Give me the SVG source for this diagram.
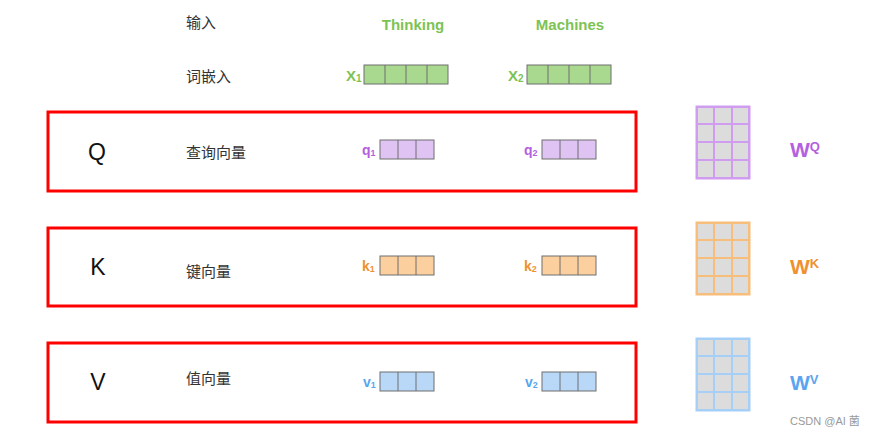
<svg xmlns="http://www.w3.org/2000/svg" width="876" height="436" viewBox="0 0 876 436">
<style>
.cn{font-family:"Noto Sans CJK SC","Noto Sans",sans-serif;font-size:15px;fill:#333}
.big{font-family:"Liberation Sans",Arial,sans-serif;font-size:23px;fill:#111}
.lab{font-family:"Liberation Sans",Arial,sans-serif;font-weight:bold}
.frame{fill:none;stroke:#ff0000;stroke-width:3}
.g{fill:#a9d98e;stroke:#6f6f6f;stroke-width:1}
.p{fill:#dfc3f2;stroke:#6f6f6f;stroke-width:1}
.o{fill:#fbd09e;stroke:#6f6f6f;stroke-width:1}
.b{fill:#b9d8f8;stroke:#6f6f6f;stroke-width:1}
.cell{fill:#dcdcdc;stroke-width:2}
</style>
<defs>
<g id="vec4">
<rect class="g" x="0" y="0" width="84" height="19"/>
<line x1="21" y1="0" x2="21" y2="19" stroke="#6f6f6f"/>
<line x1="42" y1="0" x2="42" y2="19" stroke="#6f6f6f"/>
<line x1="63" y1="0" x2="63" y2="19" stroke="#6f6f6f"/>
</g>
<g id="div3">
<line x1="18" y1="0" x2="18" y2="19" stroke="#6f6f6f"/>
<line x1="36" y1="0" x2="36" y2="19" stroke="#6f6f6f"/>
</g>
<g id="grid">
<rect x="0" y="0" width="54" height="73" fill="#dcdcdc"/>
<rect x="1" y="1" width="52" height="71" fill="none" stroke-width="2"/>
<line x1="18" y1="0" x2="18" y2="73" stroke-width="2"/>
<line x1="36" y1="0" x2="36" y2="73" stroke-width="2"/>
<line x1="0" y1="18" x2="54" y2="18" stroke-width="2"/>
<line x1="0" y1="36" x2="54" y2="36" stroke-width="2"/>
<line x1="0" y1="54" x2="54" y2="54" stroke-width="2"/>
</g>
</defs>

<g id="connectors"></g>

<g id="header">
<text class="cn" x="186" y="28">输入</text>
<text class="lab" x="413" y="30" font-size="15" fill="#7cc353" text-anchor="middle">Thinking</text>
<text class="lab" x="570" y="30" font-size="15" fill="#7cc353" text-anchor="middle">Machines</text>
</g>

<g id="embedding">
<text class="cn" x="186" y="82">词嵌入</text>
<text class="lab" x="346" y="81" font-size="15" fill="#7cc353">X<tspan font-size="10" dy="1">1</tspan></text>
<use href="#vec4" x="364" y="65"/>
<text class="lab" x="508" y="81" font-size="15" fill="#7cc353">X<tspan font-size="10" dy="1">2</tspan></text>
<use href="#vec4" x="527" y="65"/>
</g>

<g id="row-q">
<rect class="frame" x="48" y="112" width="588" height="79"/>
<text class="big" x="97" y="160" text-anchor="middle">Q</text>
<text class="cn" x="186" y="158">查询向量</text>
<text class="lab" x="362" y="155" font-size="14" fill="#b460e0">q<tspan font-size="9" dy="1">1</tspan></text>
<rect class="p" x="380" y="140" width="54" height="19"/><use href="#div3" x="380" y="140"/>
<text class="lab" x="524" y="155" font-size="14" fill="#b460e0">q<tspan font-size="9" dy="1">2</tspan></text>
<rect class="p" x="542" y="140" width="54" height="19"/><use href="#div3" x="542" y="140"/>
<use href="#grid" x="696" y="106" stroke="#cf9cf0"/>
<text class="lab" x="790" y="157" font-size="21" fill="#b460e0">W<tspan font-size="13" dy="-6">Q</tspan></text>
</g>

<g id="row-k">
<rect class="frame" x="48" y="228" width="588" height="78"/>
<text class="big" x="98" y="275" text-anchor="middle">K</text>
<text class="cn" x="186" y="277">键向量</text>
<text class="lab" x="362" y="271" font-size="14" fill="#ef9130">k<tspan font-size="9" dy="1">1</tspan></text>
<rect class="o" x="380" y="256" width="54" height="19"/><use href="#div3" x="380" y="256"/>
<text class="lab" x="524" y="271" font-size="14" fill="#ef9130">k<tspan font-size="9" dy="1">2</tspan></text>
<rect class="o" x="542" y="256" width="54" height="19"/><use href="#div3" x="542" y="256"/>
<use href="#grid" x="696" y="222" stroke="#f7bd7a"/>
<text class="lab" x="790" y="274" font-size="21" fill="#ef9130">W<tspan font-size="13" dy="-6">K</tspan></text>
</g>

<g id="row-v">
<rect class="frame" x="48" y="343" width="588" height="79"/>
<text class="big" x="98" y="390" text-anchor="middle">V</text>
<text class="cn" x="186" y="384">值向量</text>
<text class="lab" x="363" y="387" font-size="14" fill="#5aa5ef">v<tspan font-size="9" dy="1">1</tspan></text>
<rect class="b" x="380" y="372" width="54" height="19"/><use href="#div3" x="380" y="372"/>
<text class="lab" x="525" y="387" font-size="14" fill="#5aa5ef">v<tspan font-size="9" dy="1">2</tspan></text>
<rect class="b" x="542" y="372" width="54" height="19"/><use href="#div3" x="542" y="372"/>
<use href="#grid" x="696" y="338" stroke="#a6cff8"/>
<text class="lab" x="790" y="390" font-size="21" fill="#5aa5ef">W<tspan font-size="13" dy="-6">V</tspan></text>
</g>

<text x="790" y="425" font-family="'Liberation Sans','Noto Sans CJK SC',sans-serif" font-size="11" fill="#999">CSDN @AI 菌</text>
</svg>
